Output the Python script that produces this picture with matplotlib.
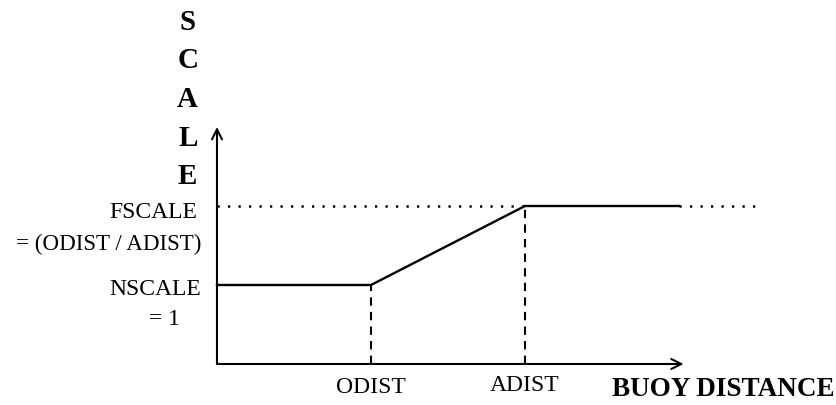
import matplotlib
matplotlib.use("Agg")
import matplotlib.pyplot as plt

plt.rcParams['font.family'] = ['Liberation Serif', 'DejaVu Serif']

# Distances (x) and scale values (y), in diagram units
odist = 1.0
adist = 2.0
nscale = 1.0
fscale = 2.0
x_end = 3.0       # end of the solid curve
x_dot_end = 3.5   # end of the dotted FSCALE guide
y_top = 3.0       # top of the scale axis

curve_x = [0.0, odist, adist, x_end]
curve_y = [nscale, nscale, fscale, fscale]

axis_letters = ["S", "C", "A", "L", "E"]

fig = plt.figure(figsize=(8.37, 4.06), dpi=100)
ax = fig.add_axes([0, 0, 1, 1])
ax.set_xlim(-1.409, 4.026)
ax.set_ylim(-0.519, 4.620)
ax.axis('off')

# axes with arrows
arrow = dict(arrowstyle='->', lw=1.5, color='black', mutation_scale=18,
             shrinkA=0, shrinkB=0)
ax.annotate('', xy=(0, y_top), xytext=(0, 0), arrowprops=arrow)
ax.annotate('', xy=(x_end + 0.03, 0), xytext=(0, 0), arrowprops=arrow)

# dotted FSCALE guide (only where the curve is not on it)
dots = (0, (0.9, 3.3))
ax.plot([0, adist], [fscale, fscale], color='black', lw=1.8, linestyle=dots)
ax.plot([x_end, x_dot_end], [fscale, fscale], color='black', lw=1.8, linestyle=dots)

# the scale curve
ax.plot(curve_x, curve_y, color='black', lw=1.7, solid_joinstyle='miter')

# dashed drops
ax.plot([odist, odist], [0, nscale], color='black', lw=1.5, linestyle=(0, (4, 3)))
ax.plot([adist, adist], [0, fscale], color='black', lw=1.5, linestyle=(0, (4, 3)))

# vertical axis title, one letter per line
for i, ch in enumerate(axis_letters):
    ax.text(-0.19, 4.34 - i * 0.49, ch, ha='center', va='center',
            fontsize=21, fontweight='bold')

# y labels
lab = 17
ax.text(-0.13, fscale - 0.07, "FSCALE", ha='right', va='center', fontsize=lab)
ax.text(-0.10, fscale - 0.48, "= (ODIST / ADIST)", ha='right', va='center', fontsize=16.6)
ax.text(-0.10, nscale - 0.04, "NSCALE", ha='right', va='center', fontsize=lab)
ax.text(-0.24, nscale - 0.43, "= 1", ha='right', va='center', fontsize=lab)

# x labels
ax.text(odist, -0.28, "ODIST", ha='center', va='center', fontsize=lab)
ax.text(adist, -0.26, "ADIST", ha='center', va='center', fontsize=lab)
ax.text(3.29, -0.31, "BUOY DISTANCE", ha='center', va='center',
        fontsize=19.5, fontweight='bold')

fig.savefig("out.png", dpi=100)
